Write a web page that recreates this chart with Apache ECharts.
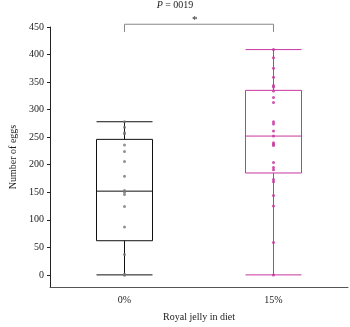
<!DOCTYPE html>
<html>
<head>
<meta charset="utf-8">
<script src="https://cdn.jsdelivr.net/npm/echarts@6/dist/echarts.min.js"></script>
<style>
  html, body { margin: 0; padding: 0; background: #fff; }
  #chart-container { width: 350px; height: 327px; }
</style>
</head>
<body>
<div id="chart-container"></div>
<script>
var dom = document.getElementById('chart-container');
var myChart = echarts.init(dom, null, { renderer: 'canvas' });

const categories = ['0%', '15%'];
// [min, Q1, median, Q3, max]
const boxes = [
  [0, 62, 152, 246, 278],
  [0, 185, 252, 335, 409]
];
const points0 = [278, 268, 258, 256, 236, 224, 206, 179, 153, 150, 146, 124, 87, 37, 1, 0, 0];
const points15 = [409, 394, 375, 359, 344, 341, 334, 322, 313, 278, 274, 261, 252, 240, 237, 235,
  204, 195, 191, 173, 169, 144, 125, 59, 0];
const yTicks = [0, 50, 100, 150, 200, 250, 300, 350, 400, 450];
const bracket = [[0, 441], [0, 455], [1, 455], [1, 441]];

const magenta = '#c8369f';
const serif = '"Liberation Serif", "DejaVu Serif", serif';

var option = {
  animation: false,
  title: [
    {
      text: '{i|P} = 0019',
      left: 'center',
      top: 0,
      padding: 0,
      textStyle: {
        fontFamily: serif, fontSize: 10, fontWeight: 'normal', color: '#222',
        rich: { i: { fontFamily: serif, fontSize: 10, fontStyle: 'italic', color: '#222' } }
      }
    },
    {
      text: '*',
      left: 192,
      top: 15,
      padding: 0,
      textStyle: { fontFamily: serif, fontSize: 11, fontWeight: 'normal', color: '#222' }
    }
  ],
  grid: { left: 42, right: 2, top: 27, bottom: 31 },
  xAxis: {
    type: 'category',
    data: categories,
    name: 'Royal jelly in diet',
    nameLocation: 'middle',
    nameGap: 25,
    nameTextStyle: { fontFamily: serif, fontSize: 10, color: '#222' },
    axisLine: { onZero: false, lineStyle: { color: '#555', width: 1 } },
    axisTick: { alignWithLabel: true, length: 3, lineStyle: { color: '#555' } },
    axisLabel: { fontFamily: serif, fontSize: 10, color: '#222', margin: 8 },
    splitLine: { show: false }
  },
  yAxis: {
    type: 'value',
    min: -22,
    max: 450,
    name: 'Number of eggs',
    nameLocation: 'middle',
    nameGap: 32,
    nameTextStyle: { fontFamily: serif, fontSize: 10, color: '#222' },
    axisLine: { show: true, lineStyle: { color: '#222', width: 1 } },
    axisTick: { show: true, length: 3, customValues: yTicks, lineStyle: { color: '#222' } },
    axisLabel: { fontFamily: serif, fontSize: 10, color: '#222', margin: 6, customValues: yTicks },
    splitLine: { show: false }
  },
  series: [
    {
      type: 'boxplot',
      boxWidth: [56, 56],
      data: [
        { value: boxes[0], itemStyle: { color: '#fff', borderColor: '#111', borderWidth: 1 } },
        { value: boxes[1], itemStyle: { color: 'rgba(255,255,255,0)', borderColor: magenta, borderWidth: 1 } }
      ],
      z: 2
    },
    {
      type: 'scatter',
      symbolSize: 3,
      itemStyle: { color: '#777' },
      data: points0.map(function (v) { return [0, v]; }),
      z: 3
    },
    {
      type: 'scatter',
      symbolSize: 3,
      itemStyle: { color: magenta, opacity: 0.85 },
      data: points15.map(function (v) { return [1, v]; }),
      z: 3
    },
    {
      type: 'line',
      data: bracket,
      clip: false,
      symbol: 'none',
      lineStyle: { color: '#888', width: 1 },
      z: 1
    }
  ]
};

myChart.setOption(option);
window.addEventListener('resize', myChart.resize);
</script>
</body>
</html>
